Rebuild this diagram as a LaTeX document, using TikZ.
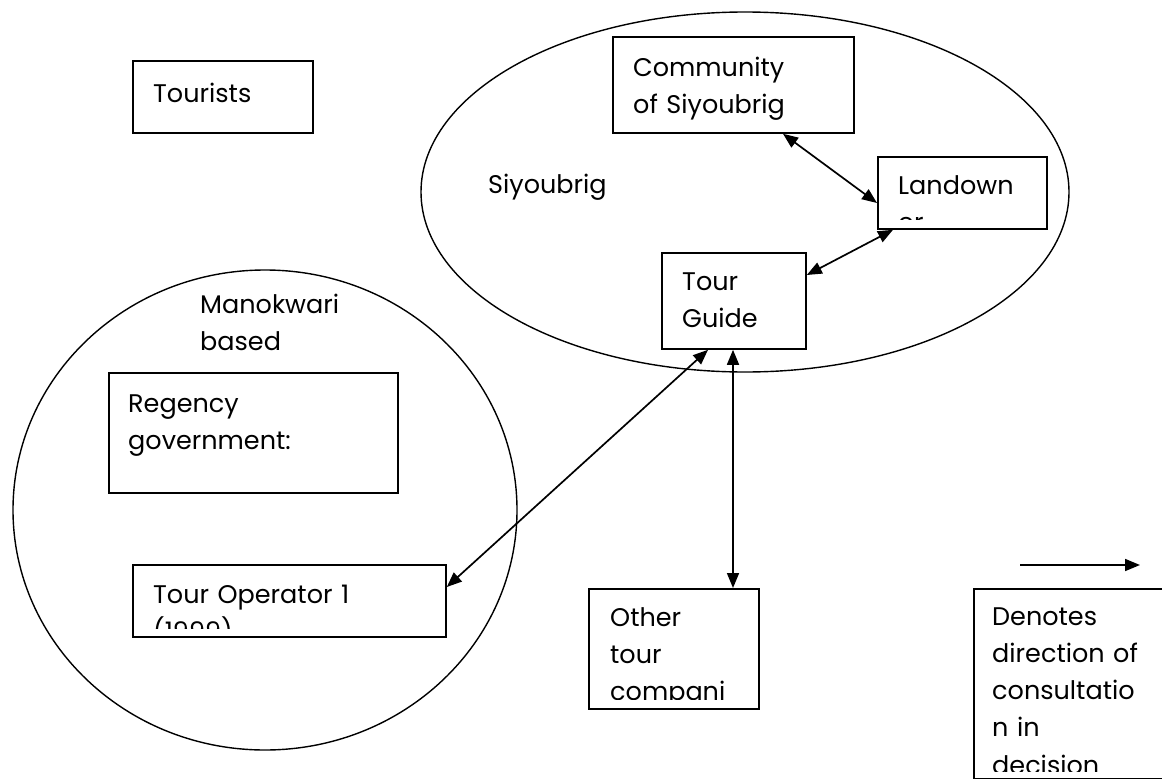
\documentclass[tikz,border=0pt]{standalone}
\usepackage{fontspec}
\setmainfont{Poppins}
\usetikzlibrary{arrows.meta}

\tikzset{
    box/.style={draw, line width=1.8pt, inner sep=0pt, anchor=north west},
    words/.style={inner sep=0pt, anchor=base west, align=left, text width=320pt,
        font=\fontsize{25.5}{37.3}\selectfont},
    zone/.style={draw, line width=1.4pt},
    link/.style={line width=1.7pt,
        {Triangle[length=15pt,width=12pt]}-{Triangle[length=15pt,width=12pt]}},
    keyarrow/.style={line width=1.7pt, -{Triangle[length=15pt,width=12pt]}}
}

\begin{document}
\begin{tikzpicture}[x=1pt,y=-1pt]
    \useasboundingbox (0,0) rectangle (1162,779);

    % The two areas
    \draw[zone] (745,192) ellipse [x radius=324, y radius=180];
    \draw[zone] (265,510) ellipse [x radius=252, y radius=240];
    \node[words] (siyoubrig) at (488,193) {Siyoubrig};
    \node[words] (manokwari) at (200,313) {Manokwari\\based};

    % Boxes
    \node[box, minimum width=180pt, minimum height=72pt] (tourists) at (132,60) {};
    \node[box, minimum width=241pt, minimum height=96pt] (comm) at (612,36) {};
    \node[box, minimum width=169pt, minimum height=72pt] (land) at (877,156) {};
    \node[box, minimum width=144pt, minimum height=96pt] (guide) at (661,252) {};
    \node[box, minimum width=289pt, minimum height=120pt] (regency) at (108,372) {};
    \node[box, minimum width=313pt, minimum height=72pt] (oper) at (132,564) {};
    \node[box, minimum width=170pt, minimum height=120pt] (other) at (588,588) {};
    \node[box, minimum width=220pt, minimum height=190pt] (note) at (973,588) {};

    % Texts, cut off at the bottom of their boxes
    \node[words] (touriststext) at (153,102) {Tourists};
    \begin{scope}
        \clip (comm.north west) rectangle ([yshift=10pt]comm.south east);
        \node[words] (commtext) at (633,76) {Community\\of Siyoubrig};
    \end{scope}
    \begin{scope}
        \clip (land.north west) rectangle ([yshift=10pt]land.south east);
        \node[words] (landtext) at (898,194) {Landown\\er};
    \end{scope}
    \node[words] (guidetext) at (682,290) {Tour\\Guide};
    \node[words] (regencytext) at (128,412) {Regency\\government:};
    \begin{scope}
        \clip (oper.north west) rectangle ([yshift=9pt]oper.south east);
        \node[words] (opertext) at (153,603) {Tour Operator 1\\(1999)};
    \end{scope}
    \begin{scope}
        \clip (other.north west) rectangle ([yshift=10pt]other.south east);
        \node[words] (othertext) at (610,626) {Other\\tour\\compani};
    \end{scope}
    \begin{scope}
        \clip (note.north west) rectangle ([yshift=8pt]note.south east);
        \node[words] (notetext) at (992,625) {Denotes\\direction of\\consultatio\\n in\\decision};
    \end{scope}

    % Consultation links
    \draw[link] ([xshift=171pt]comm.south west) -- ([yshift=-47pt]land.north west);
    \draw[link] ([xshift=16pt]land.south west) -- ([yshift=-23pt]guide.north east);
    \draw[link] ([xshift=47pt]guide.south west) -- ([yshift=-23pt]oper.north east);
    \draw[link] ([xshift=72pt]guide.south west) -- ([xshift=72pt]guide.south west |- other.north);

    % Key
    \coordinate (keystart) at (1020,565);
    \coordinate (keyend) at (1140,565);
    \draw[keyarrow] (keystart) -- (keyend);
\end{tikzpicture}
\end{document}
